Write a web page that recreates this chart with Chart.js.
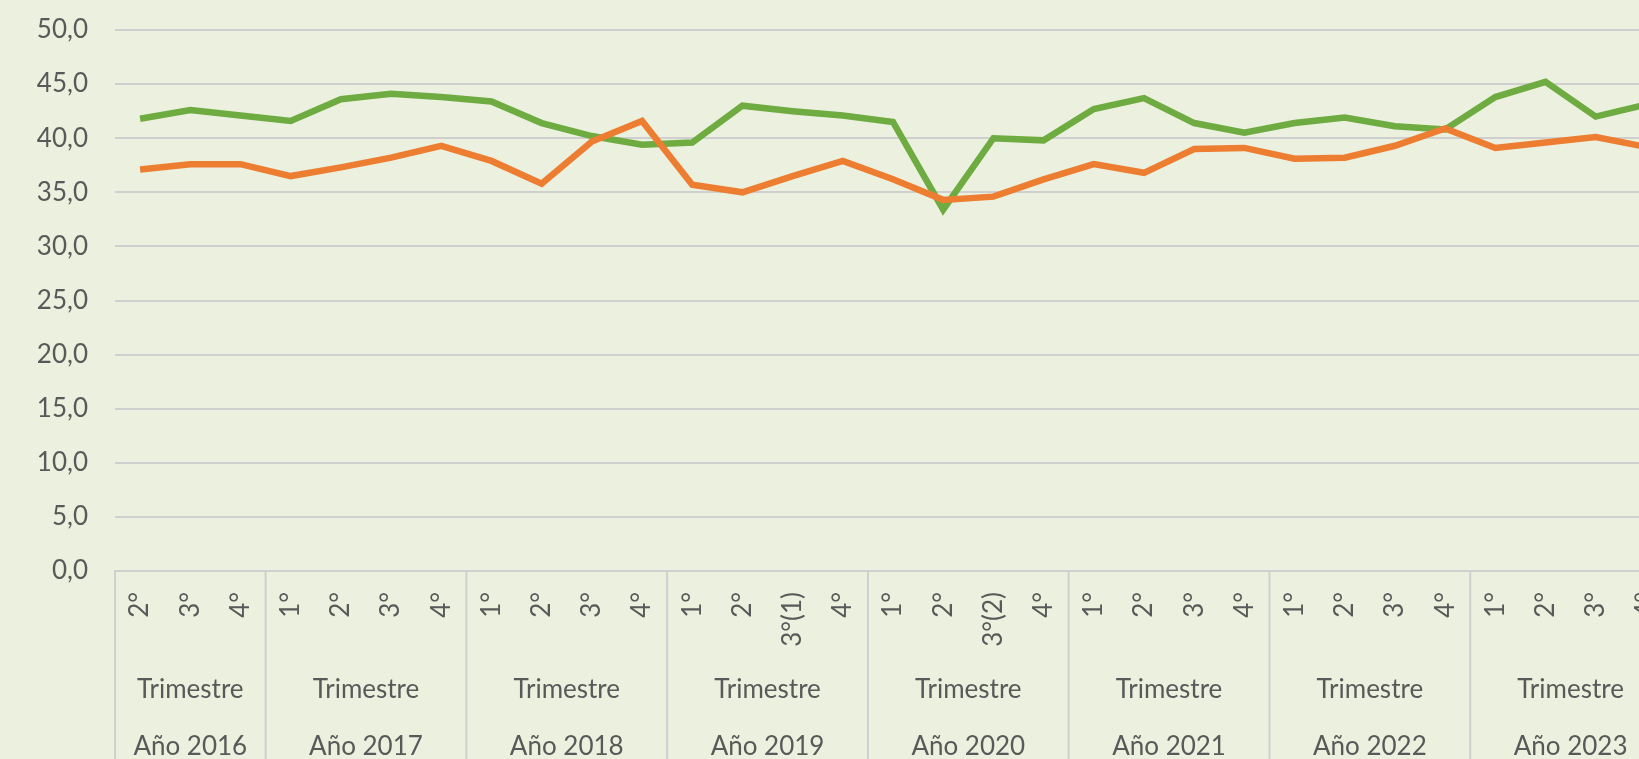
<!DOCTYPE html>
<html lang="es">
<head>
<meta charset="utf-8">
<title>Serie trimestral 2016 - 2023</title>
<script src="https://cdn.jsdelivr.net/npm/chart.js@4.4.1/dist/chart.umd.min.js"></script>
<style>
    html, body {
        margin: 0;
        padding: 0;
        background: #ebf1de;
        overflow: hidden;
    }
    #chart-wrap {
        position: relative;
        width: 1680px;
        height: 759px;
    }
</style>
</head>
<body>
<div id="chart-wrap">
    <canvas id="chart"></canvas>
</div>
<script>
// ========================================
// DATA
// ========================================

// Quarter labels, one per point (first group starts at the 2nd quarter)
const quarterLabels = [
    '2°', '3°', '4°',
    '1°', '2°', '3°', '4°',
    '1°', '2°', '3°', '4°',
    '1°', '2°', '3°(1)', '4°',
    '1°', '2°', '3°(2)', '4°',
    '1°', '2°', '3°', '4°',
    '1°', '2°', '3°', '4°',
    '1°', '2°', '3°', '4°'
];

// Year groups and how many quarters each one holds
const yearLabels = ['Año 2016', 'Año 2017', 'Año 2018', 'Año 2019', 'Año 2020', 'Año 2021', 'Año 2022', 'Año 2023'];
const yearSizes = [3, 4, 4, 4, 4, 4, 4, 4];
const groupTitle = 'Trimestre';

// Green series
const greenValues = [
    41.8, 42.6, 42.1,
    41.6, 43.6, 44.1, 43.8,
    43.4, 41.4, 40.2, 39.4,
    39.6, 43.0, 42.5, 42.1,
    41.5, 33.4, 40.0, 39.8,
    42.7, 43.7, 41.4, 40.5,
    41.4, 41.9, 41.1, 40.8,
    43.8, 45.2, 42.0, 43.1
];

// Orange series
const orangeValues = [
    37.1, 37.6, 37.6,
    36.5, 37.3, 38.2, 39.3,
    37.9, 35.8, 39.7, 41.6,
    35.7, 35.0, 36.5, 37.9,
    36.2, 34.3, 34.6, 36.2,
    37.6, 36.8, 39.0, 39.1,
    38.1, 38.2, 39.3, 40.9,
    39.1, 39.6, 40.1, 39.2
];

// Y axis range
const yMin = 0;
const yMax = 50;
const yStep = 5;

// ========================================
// STYLE
// ========================================
const FONT = 'Lato, "Open Sans", sans-serif';
const TEXT_COLOR = '#595959';
const GRID_COLOR = '#cfcfcf';

/**
 * Draws the lower levels of the category axis: the "Trimestre" row,
 * the year row and the separators between year groups.
 */
const groupAxisPlugin = {
    id: 'groupAxis',
    afterDraw(chart) {
        const ctx = chart.ctx;
        const xScale = chart.scales.x;
        const area = chart.chartArea;
        const half = (xScale.getPixelForValue(1) - xScale.getPixelForValue(0)) / 2;

        ctx.save();
        ctx.strokeStyle = GRID_COLOR;
        ctx.lineWidth = 2;
        ctx.fillStyle = TEXT_COLOR;
        ctx.font = '26px ' + FONT;
        ctx.textAlign = 'center';
        ctx.textBaseline = 'middle';

        let start = 0;
        yearSizes.forEach((size, g) => {
            const left = xScale.getPixelForValue(start) - half;
            const right = xScale.getPixelForValue(start + size - 1) + half;

            // separator on the left side of the group
            ctx.beginPath();
            ctx.moveTo(left, area.bottom);
            ctx.lineTo(left, chart.height);
            ctx.stroke();

            const mid = (left + right) / 2;
            ctx.fillText(groupTitle, mid, 690);
            ctx.fillText(yearLabels[g], mid, 747);

            start += size;
        });

        // closing separator after the last group
        const end = xScale.getPixelForValue(start - 1) + half;
        ctx.beginPath();
        ctx.moveTo(end, area.bottom);
        ctx.lineTo(end, chart.height);
        ctx.stroke();

        ctx.restore();
    }
};

// ========================================
// CHART
// ========================================
const ctx = document.getElementById('chart').getContext('2d');

const chart = new Chart(ctx, {
    type: 'line',
    data: {
        labels: quarterLabels,
        datasets: [
            {
                label: 'Serie naranja',
                data: orangeValues,
                borderColor: '#ed7d31',
                backgroundColor: '#ed7d31',
                borderWidth: 6.5,
                borderJoinStyle: 'miter',
                borderCapStyle: 'butt',
                pointRadius: 0,
                tension: 0,
                order: 1
            },
            {
                label: 'Serie verde',
                data: greenValues,
                borderColor: '#6eab41',
                backgroundColor: '#6eab41',
                borderWidth: 6.5,
                borderJoinStyle: 'miter',
                borderCapStyle: 'butt',
                pointRadius: 0,
                tension: 0,
                order: 2
            }
        ]
    },
    options: {
        responsive: true,
        maintainAspectRatio: false,
        animation: false,
        layout: {
            padding: { top: 30, right: 9, bottom: 0, left: 0 }
        },
        plugins: {
            legend: { display: false },
            tooltip: { enabled: false }
        },
        scales: {
            x: {
                offset: true,
                grid: { display: false, drawTicks: false },
                border: { display: true, color: GRID_COLOR, width: 2 },
                ticks: {
                    autoSkip: false,
                    maxRotation: 90,
                    minRotation: 90,
                    padding: 21,
                    color: TEXT_COLOR,
                    font: { family: FONT, size: 26 }
                },
                afterFit(scale) {
                    // fixed band for the three label rows, no side overhang
                    scale.height = 188;
                    scale.paddingLeft = 0;
                    scale.paddingRight = 0;
                }
            },
            y: {
                min: yMin,
                max: yMax,
                grid: {
                    color: GRID_COLOR,
                    lineWidth: 2,
                    drawTicks: false
                },
                border: { display: false },
                ticks: {
                    stepSize: yStep,
                    padding: 27,
                    color: TEXT_COLOR,
                    font: { family: FONT, size: 26 },
                    callback: function(value) {
                        return value.toFixed(1).replace('.', ',');
                    }
                },
                afterFit(scale) {
                    scale.width = 115;
                    scale.paddingTop = 0;
                    scale.paddingBottom = 0;
                }
            }
        }
    },
    plugins: [groupAxisPlugin]
});
</script>
</body>
</html>
